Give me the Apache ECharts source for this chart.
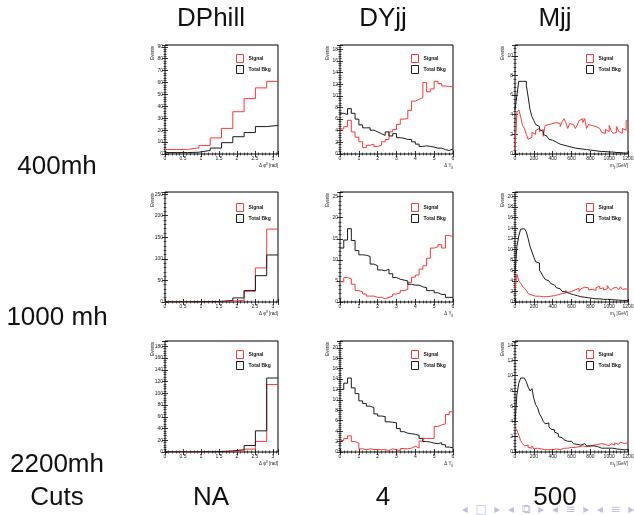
<!DOCTYPE html>
<html><head><meta charset="utf-8">
<script src="https://cdn.jsdelivr.net/npm/echarts@6/dist/echarts.min.js"></script>
<style>html,body{margin:0;padding:0;background:#fff}#c{width:634px;height:515px}</style>
</head><body><div id="c"></div>
<script>
// ---- texts ----
const columnTitles = ['DPhill', 'DYjj', 'Mjj'];
const rowTitles = ['400mh', '1000 mh', '2200mh'];
const cutsLabel = 'Cuts';
const cutValues = ['NA', '4', '500'];
const seriesNames = ['Signal', 'Total Bkg'];

// ---- axis ranges / ticks ----
const xMin = [0, 0, 0];
const xMax = [Math.PI, 6, 1200];
const xStep = [0.5, 1, 200];
const yMax = [91.5, 18.75, 11.1, 255, 26.1, 20.85, 189, 21.3, 14.55];
const yStep = [10, 2, 2, 50, 5, 2, 20, 2, 2];

// ---- DPhill (10 bins, 0..pi) ----
const dphiSig400  = [3.8, 3.8, 5.2, 7.2, 13.5, 21.5, 35.5, 46.5, 55.5, 61];
const dphiBkg400  = [1.2, 1.2, 1.5, 3, 5, 9.5, 14.5, 18, 23, 24];
const dphiSig1000 = [0.3, 0.3, 0.4, 0.5, 0.8, 2, 4, 25, 79, 169];
const dphiBkg1000 = [0.5, 0.6, 0.8, 1, 1.5, 3.5, 9.5, 26.5, 61, 109];
const dphiSig2200 = [0.2, 0.2, 0.2, 0.3, 0.4, 0.8, 1.5, 5, 18, 115];
const dphiBkg2200 = [0.3, 0.3, 0.4, 0.5, 0.8, 1.8, 4, 11, 36, 126];

// ---- DYjj (30 bins, 0..6) ----
const dyjjSig400  = [4.3,4.7,5.8,3.8,2.9,2.1,1.1,1.5,1.7,1.3,1.5,2.1,2.5,3.8,4.2,5.1,6.0,6.1,7.5,9.1,9.4,9.7,12.3,10.7,11.2,12.5,12.1,11.7,11.6,11.6];
const dyjjBkg400  = [7.0,6.8,7.8,7.0,6.0,5.0,4.5,4.5,4.1,3.8,3.5,3.2,3.8,3.1,3.5,2.8,2.7,2.5,2.5,2.1,1.7,1.3,1.4,1.3,1.2,1.0,1.0,0.75,0.6,0.85];
const dyjjSig1000 = [4.8,5.8,5.5,4.2,2.7,2.4,1.9,1.4,1.4,1.1,1.1,0.8,1.1,1.4,1.9,2.2,2.7,3.0,4.6,5.9,6.4,7.8,8.6,10.4,12.8,13.1,13.6,12.8,15.8,15.5];
const dyjjBkg1000 = [12.8,14.7,17.4,14.6,12.2,11.2,11.1,10.8,9.0,8.6,7.6,7.4,7.8,6.7,5.8,5.4,5.2,5.0,4.2,4.0,4.0,3.6,3.4,2.7,2.7,2.2,1.8,1.8,1.1,1.1];
const dyjjSig2200 = [2.2,2.6,3.1,2.0,1.7,0.6,0.45,0.6,0.5,0.45,0.45,0.45,0.3,0.6,0.45,0.25,0.65,0.6,0.75,1.1,0.75,2.1,2.6,2.6,2.6,4.9,5.2,5.4,7.2,7.7];
const dyjjBkg2200 = [12.0,13.2,14.2,12.3,11.2,9.8,9.3,8.8,8.5,7.3,6.9,6.8,5.8,5.7,5.6,4.5,3.9,3.6,3.5,3.4,3.2,2.6,2.0,1.9,1.7,1.6,1.8,1.4,0.95,0.8];

// ---- Mjj (60 bins, 0..1200 GeV) ----
const mjjSig400  = [0.3,4.2,4.5,3.8,2.9,2.6,2.0,1.5,1.7,2.2, 2.0,2.4,2.6,2.3,2.5,1.8,2.9,3.0,2.8,3.1, 2.9,3.2,3.0,3.1,2.8,3.3,3.6,3.2,2.6,3.1, 3.0,2.9,2.6,2.9,3.4,3.6,3.2,3.6,2.6,3.0, 2.9,2.8,2.8,2.7,2.6,2.8,2.2,2.1,2.5,2.3, 2.9,2.4,2.1,2.2,2.8,2.3,2.1,2.6,2.4,3.4];
const mjjBkg400  = [4.5,6.0,7.4,7.4,7.4,7.4,7.0,5.8,4.5,3.8, 3.4,3.0,2.8,2.5,2.3,2.0,1.8,1.6,1.5,1.4, 1.3,1.2,1.1,1.0,0.95,0.9,0.8,0.8,0.7,0.7, 0.65,0.6,0.6,0.55,0.5,0.5,0.55,0.45,0.4,0.4, 0.35,0.35,0.3,0.3,0.3,0.25,0.25,0.25,0.2,0.2, 0.2,0.2,0.15,0.15,0.15,0.15,0.15,0.1,0.1,0.1];
const mjjSig1000 = [2.5,5.3,4.0,3.6,3.0,2.6,2.2,1.6,1.3,1.2, 1.1,1.4,1.1,1.2,1.0,1.1,1.0,1.1,1.1,1.0, 1.2,1.4,1.4,1.3,1.6,1.5,1.7,2.2,1.8,2.0, 1.9,2.3,2.1,2.6,2.0,2.5,2.8,2.5,2.7,2.3, 2.4,2.6,2.2,2.7,3.0,2.5,2.7,2.3,2.5,3.1, 2.6,2.2,2.6,2.8,2.6,2.3,2.9,2.4,2.5,2.3];
const mjjBkg1000 = [5.5,10.5,12.5,13.8,13.9,13.6,13.3,12.0,10.5,9.5, 8.5,7.6,7.4,6.0,5.5,4.8,4.3,4.0,3.8,3.5, 3.2,2.9,2.7,2.5,2.2,2.0,1.9,1.7,1.6,1.5, 1.4,1.3,1.2,1.1,1.0,1.0,0.9,0.9,0.8,0.8, 0.7,0.7,0.6,0.6,0.6,0.55,0.5,0.5,0.5,0.45, 0.45,0.4,0.4,0.4,0.35,0.35,0.3,0.3,0.3,0.3];
const mjjSig2200 = [3.2,2.9,2.2,1.5,1.1,0.8,0.9,0.6,0.5,0.8, 0.4,0.5,0.3,0.4,0.5,0.3,0.4,0.3,0.5,0.3, 0.2,0.4,0.3,0.3,0.4,0.5,0.4,0.5,0.4,0.6, 0.5,0.6,0.5,0.7,0.6,0.8,0.9,0.7,0.6,0.8, 0.7,0.9,0.8,1.0,0.9,1.1,0.9,1.0,1.1,0.8, 1.0,1.1,0.9,1.2,1.0,1.1,1.3,1.1,1.0,1.2];
const mjjBkg2200 = [3.8,7.5,9.0,9.7,9.7,9.5,9.2,8.5,8.0,8.3, 7.0,6.2,5.8,5.0,4.6,4.0,3.7,3.8,3.3,3.0, 2.9,2.6,2.4,2.0,1.9,1.7,1.6,1.4,1.3,1.4, 1.2,1.1,1.0,1.0,0.9,1.0,1.1,0.9,0.8,0.8, 0.7,0.8,0.6,0.7,0.6,0.5,0.6,0.5,0.6,0.5, 0.4,0.5,0.4,0.4,0.4,0.35,0.3,0.3,0.3,0.3];

const panelSig = [dphiSig400, dyjjSig400, mjjSig400, dphiSig1000, dyjjSig1000, mjjSig1000, dphiSig2200, dyjjSig2200, mjjSig2200];
const panelBkg = [dphiBkg400, dyjjBkg400, mjjBkg400, dphiBkg1000, dyjjBkg1000, mjjBkg1000, dphiBkg2200, dyjjBkg2200, mjjBkg2200];

// ---- layout / style ----
const colLeft = [165, 340, 515];
const rowTop = [45, 192, 341];
const plotW = 113;
const plotH = [109, 110, 111];
const colCenter = [211, 383, 555];
const RED = '#ff3838', BLK = '#1a1a1a';
const FONT = 'Liberation Sans';
const BIG = 26;

const xTitleRich = [
  '{a|\u0394 \u03c6}{s|ll}{a| [rad]}',
  '{a|\u0394 Y}{b|jj}',
  '{a|m}{b|jj}{a| [GeV]}'
];

function histPoints(vals, c) {
  const n = vals.length, w = (xMax[c] - xMin[c]) / n;
  const pts = vals.map((v, i) => [xMin[c] + i * w, v]);
  pts.push([xMax[c], vals[n - 1]]);
  return pts;
}
const plainNum = v => String(Math.round(v * 1000) / 1000);

const grids = [], xAxes = [], yAxes = [], series = [], legends = [];
for (let k = 0; k < 9; k++) {
  const r = Math.floor(k / 3), c = k % 3;
  grids.push({left: colLeft[c], top: rowTop[r], width: plotW, height: plotH[r],
    show: true, borderColor: '#000', borderWidth: 1, backgroundColor: 'rgba(0,0,0,0)',
    containLabel: false, outerBoundsMode: 'none'});
  const tick = {show: true, inside: true, length: 3, lineStyle: {color: '#000', width: 0.8}};
  const minor = {show: true, splitNumber: 5, length: 1.5, lineStyle: {color: '#000', width: 0.6}};
  const lab = {fontSize: 5, margin: 2, color: '#222', fontFamily: FONT, formatter: plainNum};
  xAxes.push({type: 'value', gridIndex: k, position: 'bottom', min: xMin[c], max: xMax[c], interval: xStep[c],
    axisLine: {show: false}, splitLine: {show: false}, axisTick: tick, minorTick: minor,
    axisLabel: Object.assign({showMaxLabel: c > 0}, lab),
    name: xTitleRich[c], nameLocation: 'end', nameGap: 0, nameMoveOverlap: false,
    nameTextStyle: {align: 'right', verticalAlign: 'top', padding: [8, 0, 0, 0], fontFamily: FONT, color: '#222',
      rich: {a: {fontSize: 4.5, fontFamily: FONT, color: '#222'},
             s: {fontSize: 3.5, fontFamily: FONT, color: '#222', padding: [0, 0, 3, 0]},
             b: {fontSize: 3.5, fontFamily: FONT, color: '#222', padding: [3, 0, 0, 0]}}}});
  xAxes.push({type: 'value', gridIndex: k, position: 'top', min: xMin[c], max: xMax[c], interval: xStep[c],
    axisLine: {show: false}, splitLine: {show: false}, axisTick: tick, minorTick: minor, axisLabel: {show: false}});
  yAxes.push({type: 'value', gridIndex: k, position: 'left', min: 0, max: yMax[k], interval: yStep[k],
    axisLine: {show: false}, splitLine: {show: false}, axisTick: tick, minorTick: minor,
    axisLabel: Object.assign({showMaxLabel: false}, lab),
    name: 'Events', nameLocation: 'end', nameRotate: 90, nameGap: -1, nameMoveOverlap: false,
    nameTextStyle: {fontSize: 4.5, fontFamily: FONT, color: '#222', align: 'right', verticalAlign: 'bottom', padding: [0, 0, 10, 0]}});
  yAxes.push({type: 'value', gridIndex: k, position: 'right', min: 0, max: yMax[k], interval: yStep[k],
    axisLine: {show: false}, splitLine: {show: false}, axisTick: tick, minorTick: minor, axisLabel: {show: false}});
  series.push({type: 'line', name: seriesNames[0], xAxisIndex: 2 * k, yAxisIndex: 2 * k, step: 'end',
    symbol: 'none', data: histPoints(panelSig[k], c), lineStyle: {color: RED, width: 1}, itemStyle: {color: RED},
    animation: false, silent: true});
  series.push({type: 'line', name: seriesNames[1], xAxisIndex: 2 * k, yAxisIndex: 2 * k, step: 'end',
    symbol: 'none', data: histPoints(panelBkg[k], c), lineStyle: {color: BLK, width: 1}, itemStyle: {color: BLK},
    animation: false, silent: true});
  legends.push({left: colLeft[c] + 71, top: rowTop[r] + (r === 1 ? 11 : 9), orient: 'vertical',
    itemWidth: 7, itemHeight: 8, itemGap: 2, padding: 0, icon: 'rect', selectedMode: false,
    textStyle: {fontSize: 5, fontWeight: 'bold', color: '#111', fontFamily: FONT},
    data: [
      {name: seriesNames[0], icon: 'rect', itemStyle: {color: 'rgba(0,0,0,0)', borderColor: RED, borderWidth: 1}, lineStyle: {width: 0, color: 'rgba(0,0,0,0)'}},
      {name: seriesNames[1], icon: 'rect', itemStyle: {color: 'rgba(0,0,0,0)', borderColor: BLK, borderWidth: 1}, lineStyle: {width: 0, color: 'rgba(0,0,0,0)'}}
    ]});
}

function txt(t, x, y, size, fill, family) {
  return {type: 'text', x: x, y: y, z: 100, silent: true,
    style: {text: t, align: 'center', verticalAlign: 'middle', fontSize: size, fontFamily: family || FONT, fill: fill || '#000'}};
}
const graphics = [];
graphics.push(txt('\u25c2  \u25a1  \u25b8  \u25c2  \u29c9  \u25b8  \u25c2  \u2261  \u25b8  \u25c2  \u2261  \u25b8', 548, 510, 12, '#c0c0e2', 'DejaVu Sans'));
columnTitles.forEach((t, i) => graphics.push(txt(t, colCenter[i], 19, BIG, '#111')));
const rowLabelY = [167, 318, 465];
rowTitles.forEach((t, i) => graphics.push(txt(t, 57, rowLabelY[i], BIG, '#111')));
graphics.push(txt(cutsLabel, 57, 498, BIG, '#111'));
cutValues.forEach((t, i) => graphics.push(txt(t, colCenter[i], 498, BIG, '#111')));

const chart = echarts.init(document.getElementById('c'), null, {renderer: 'canvas'});
chart.setOption({
  backgroundColor: '#fff',
  animation: false,
  grid: grids, xAxis: xAxes, yAxis: yAxes, series: series, legend: legends,
  graphic: graphics
});
</script>
</body></html>
